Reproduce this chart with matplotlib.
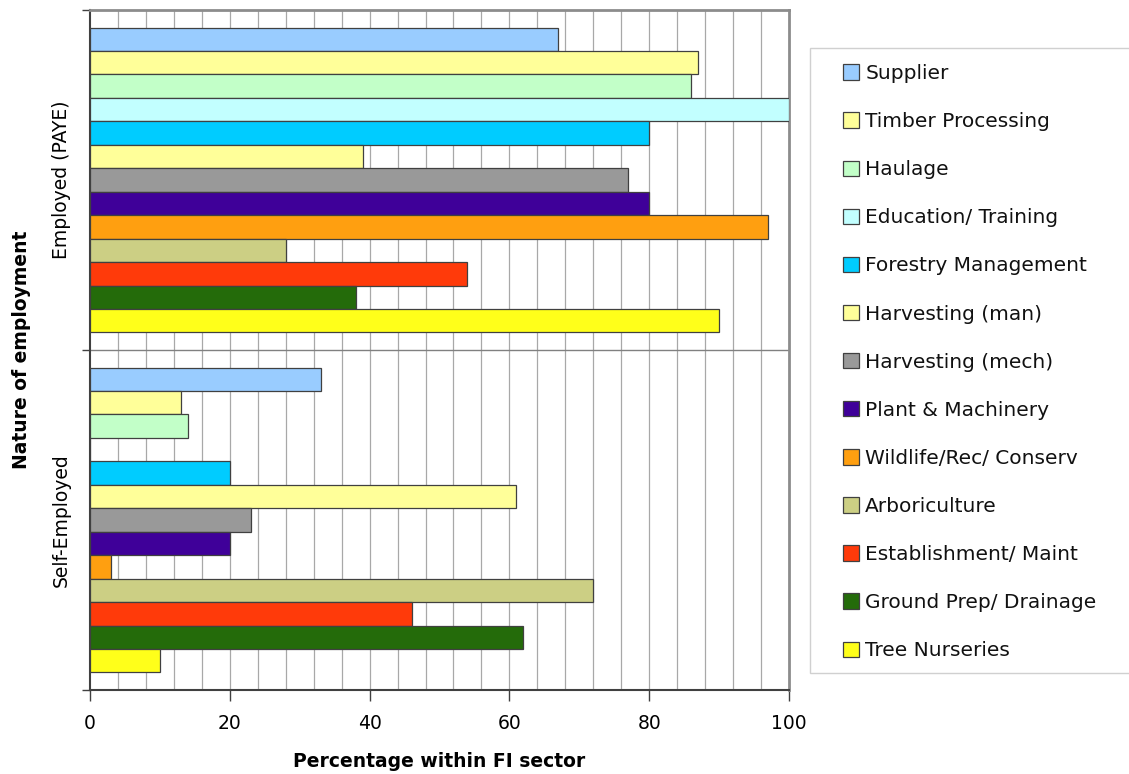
import matplotlib
matplotlib.use("Agg")
import matplotlib.pyplot as plt
from matplotlib.patches import Rectangle
import numpy as np

# sectors, listed top to bottom inside each group
sectors = ["Supplier", "Timber Processing", "Haulage", "Education/ Training",
           "Forestry Management", "Harvesting (man)", "Harvesting (mech)",
           "Plant & Machinery", "Wildlife/Rec/ Conserv", "Arboriculture",
           "Establishment/ Maint", "Ground Prep/ Drainage", "Tree Nurseries"]
colores = ["#99CCFF", "#FFFF99", "#C2FFC8", "#C2FFFF", "#00CCFF", "#FFFF99",
           "#999999", "#3F0099", "#FF9F10", "#CCCF84", "#FF3A0A", "#246B0A",
           "#FFFF1A"]

grupos = ["Self-Employed", "Employed (PAYE)"]
employed = [67, 87, 86, 100, 80, 39, 77, 80, 97, 28, 54, 38, 90]
self_employed = [33, 13, 14, 0, 20, 61, 23, 20, 3, 72, 46, 62, 10]

fig = plt.figure(figsize=(11.29, 7.74), dpi=100)
ax = fig.add_axes([90/1129, 1 - 690/774, 699/1129, 680/774])

h = 0.069
for i, (nome, cor) in enumerate(zip(sectors, colores)):
    off = (6 - i) * h
    ax.barh([0 + off, 1 + off], [self_employed[i], employed[i]], height=h,
            color=cor, edgecolor="#404040", linewidth=0.9, label=nome, zorder=3)

ax.set_xlim(0, 100)
ax.set_ylim(-0.5, 1.5)

# vertical grid every 4 %
for x in np.arange(4, 100, 4):
    ax.axvline(x, color="#A8A8A8", linewidth=0.9, zorder=1)
ax.axhline(0.5, color="#808080", linewidth=1.0, zorder=1)

ax.set_xticks(np.arange(0, 101, 20))
ax.tick_params(axis="x", length=8, width=1, color="#404040", labelsize=13.5,
               pad=9, direction="out")
ax.set_yticks([0, 1])
ax.set_yticklabels(grupos, rotation=90, va="center", fontsize=13.5)
ax.tick_params(axis="y", length=0, pad=14)
ax.set_yticks([-0.5, 0.5, 1.5], minor=True)
ax.tick_params(axis="y", which="minor", length=6, width=1, color="#404040")

for lado in ["top", "right"]:
    ax.spines[lado].set_color("#8C8C8C")
    ax.spines[lado].set_linewidth(2)
for lado in ["left", "bottom"]:
    ax.spines[lado].set_color("#404040")
    ax.spines[lado].set_linewidth(1.5)

ax.set_xlabel("Percentage within FI sector", fontsize=13.5, fontweight="bold",
              labelpad=14)
ax.set_ylabel("Nature of employment", fontsize=13.5, fontweight="bold",
              labelpad=15)

# legend frame runs past the right edge
fig.patches.append(Rectangle((810/1129, 1 - 673/774), 340/1129, 625/774,
                             transform=fig.transFigure, facecolor="white",
                             edgecolor="#D0D0D0", linewidth=1, zorder=-1))
leg = ax.legend(loc="upper left", bbox_to_anchor=(843/1129, 1 - 64/774),
                bbox_transform=fig.transFigure,
                fontsize=14.5, frameon=False,
                handlelength=0.8, handleheight=0.8, handletextpad=0.3,
                labelspacing=1.445, borderpad=0, borderaxespad=0)
for t in leg.get_texts():
    t.set_color("#111111")

plt.savefig("out.png", dpi=100)
